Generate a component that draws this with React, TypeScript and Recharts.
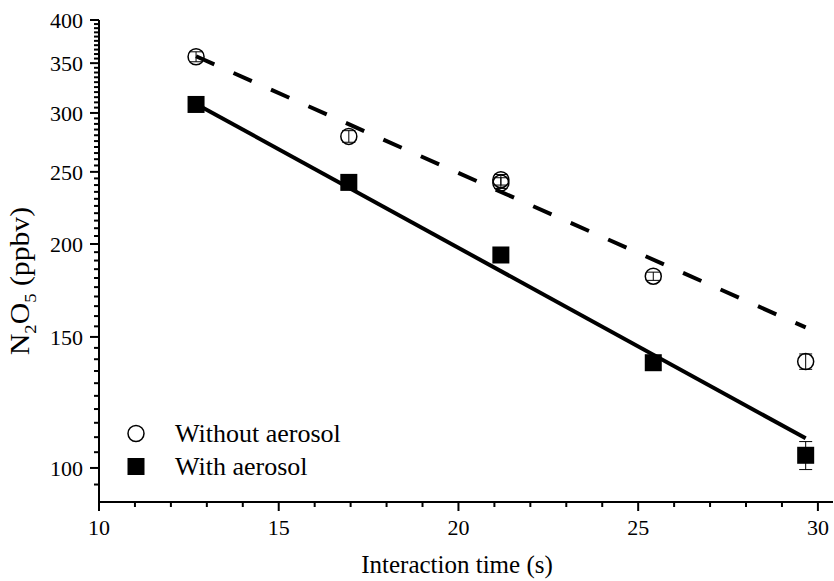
import React from 'react';
import { ComposedChart, XAxis, YAxis, Scatter, Line, ErrorBar, Legend } from 'recharts';

// ---------- data ----------
const TIME_WITHOUT = [12.7, 16.95, 21.18, 21.18, 25.42, 29.66];
const N2O5_WITHOUT = [357, 279, 244, 241.5, 181, 139];
const ERR_WITHOUT = [5.5, 5, 4, 4, 2.3, 3.3];

const TIME_WITH = [12.7, 16.95, 21.18, 25.42, 29.66];
const N2O5_WITH = [308, 242, 193.3, 138.5, 104];
const ERR_WITH = [3, 3, 3, 3, 4.5];

const FIT_TIME = [12.7, 29.66];
const FIT_WITHOUT = [357.5, 154.5];
const FIT_WITH = [308.5, 109.6];

const SERIES_NAMES = ['Without aerosol', 'With aerosol'];

const X_MAJOR = [10, 15, 20, 25, 30];
const X_TICKS = [10, 11, 12, 13, 14, 15, 16, 17, 18, 19, 20, 21, 22, 23, 24, 25, 26, 27, 28, 29, 30];
const Y_MAJOR = [100, 150, 200, 250, 300, 350, 400];
const Y_TICKS = Array.from({ length: 62 }, (_, i) => 95 + 5 * i);

const X_DOMAIN: [number, number] = [10, 30.42];
const Y_DOMAIN: [number, number] = [90, 400];

const X_TITLE = 'Interaction time (s)';

// ---------- table building ----------
const withoutData = TIME_WITHOUT.map((x, i) => ({ x, y: N2O5_WITHOUT[i], err: ERR_WITHOUT[i] }));
const withData = TIME_WITH.map((x, i) => ({ x, y: N2O5_WITH[i], err: ERR_WITH[i] }));
const fitWithoutData = FIT_TIME.map((x, i) => ({ x, y: FIT_WITHOUT[i] }));
const fitWithData = FIT_TIME.map((x, i) => ({ x, y: FIT_WITH[i] }));

// ---------- styling ----------
const FONT = '"Liberation Serif", "Times New Roman", serif';
const W = 834;
const H = 581;
const MARGIN = { top: 20, right: 1, left: 0, bottom: 0 };
const Y_AXIS_W = 99;
const X_AXIS_H = 79;
const MAJOR_LEN = 9;
const MINOR_LEN = 5;
const TICK_STROKE = 2;

const BottomTick = (props: any) => {
  const { x, y, payload } = props;
  const major = X_MAJOR.includes(payload.value);
  return (
    <g>
      <line x1={x} x2={x} y1={y} y2={y + (major ? MAJOR_LEN : MINOR_LEN)} stroke="#000" strokeWidth={TICK_STROKE} />
      {major && (
        <text x={x} y={y + 33} textAnchor="middle" fontFamily={FONT} fontSize={22} fill="#000">
          {payload.value}
        </text>
      )}
    </g>
  );
};

const TopTick = (props: any) => {
  const { x, y, payload } = props;
  const major = X_MAJOR.includes(payload.value);
  return <line x1={x} x2={x} y1={y} y2={y + (major ? MAJOR_LEN : MINOR_LEN)} stroke="#000" strokeWidth={TICK_STROKE} />;
};

const LeftTick = (props: any) => {
  const { x, y, payload } = props;
  const major = Y_MAJOR.includes(payload.value);
  return (
    <g>
      <line x1={x} x2={x - (major ? MAJOR_LEN : MINOR_LEN)} y1={y} y2={y} stroke="#000" strokeWidth={TICK_STROKE} />
      {major && (
        <text x={x - 16} y={y} dy="0.35em" textAnchor="end" fontFamily={FONT} fontSize={22} fill="#000">
          {payload.value}
        </text>
      )}
    </g>
  );
};

const RightTick = (props: any) => {
  const { x, y, payload } = props;
  const major = Y_MAJOR.includes(payload.value);
  return <line x1={x} x2={x - (major ? MAJOR_LEN : MINOR_LEN)} y1={y} y2={y} stroke="#000" strokeWidth={TICK_STROKE} />;
};

const XTitle = () => (
  <text x={457} y={573} textAnchor="middle" fontFamily={FONT} fontSize={25} fill="#000">
    {X_TITLE}
  </text>
);

const YTitle = () => (
  <text
    transform="translate(29, 281) rotate(-90) scale(1.1, 1)"
    x={0}
    y={0}
    textAnchor="middle"
    fontFamily={FONT}
    fontSize={27}
    fill="#000"
  >
    N<tspan dy={7} fontSize={17}>2</tspan>
    <tspan dy={-7}>O</tspan>
    <tspan dy={7} fontSize={17}>5</tspan>
    <tspan dy={-7}>{'\u00a0(ppbv)'}</tspan>
  </text>
);

const CircleShape = (props: any) => (
  <circle cx={props.cx} cy={props.cy} r={8} fill="none" stroke="#000" strokeWidth={1.5} />
);
const SquareShape = (props: any) => (
  <rect x={props.cx - 8.5} y={props.cy - 8.5} width={17} height={17} fill="#000" />
);

const LegendContent = (props: any) => {
  const items = (props.payload || [])
    .filter((p: any) => p.type !== 'none')
    .slice()
    .sort((a: any, b: any) => SERIES_NAMES.indexOf(a.value) - SERIES_NAMES.indexOf(b.value));
  return (
    <div style={{ fontFamily: FONT, fontSize: 26, color: '#000' }}>
      {items.map((p: any) => (
        <div key={p.value} style={{ display: 'flex', alignItems: 'center', height: 33 }}>
          <svg width={59} height={33} style={{ display: 'block' }}>
            {p.type === 'circle' ? (
              <circle cx={20} cy={16.5} r={8} fill="none" stroke="#000" strokeWidth={1.5} />
            ) : (
              <rect x={11.5} y={8} width={17} height={17} fill="#000" />
            )}
          </svg>
          <span style={{ lineHeight: '33px', whiteSpace: 'nowrap' }}>{p.value}</span>
        </div>
      ))}
    </div>
  );
};

export default function App() {
  return (
    <div style={{ position: 'absolute', left: 0, top: 0, background: '#fff' }}>
      <ComposedChart width={W} height={H} margin={MARGIN}>
        <XAxis
          xAxisId="bottom"
          orientation="bottom"
          dataKey="x"
          type="number"
          domain={X_DOMAIN}
          allowDataOverflow
          ticks={X_TICKS}
          interval={0}
          height={X_AXIS_H}
          tickSize={0}
          tickMargin={0}
          tickLine={false}
          tick={<BottomTick />}
          axisLine={{ stroke: '#000', strokeWidth: 2 }}
          label={{ content: () => <XTitle /> }}
        />
        <XAxis
          xAxisId="top"
          orientation="top"
          dataKey="x"
          type="number"
          domain={X_DOMAIN}
          allowDataOverflow
          ticks={X_TICKS}
          interval={0}
          height={0}
          tickSize={0}
          tickMargin={0}
          tickLine={false}
          tick={<TopTick />}
          axisLine={{ stroke: '#000', strokeWidth: 2 }}
        />
        <YAxis
          yAxisId="left"
          orientation="left"
          dataKey="y"
          type="number"
          scale="log"
          domain={Y_DOMAIN}
          allowDataOverflow
          ticks={Y_TICKS}
          interval={0}
          width={Y_AXIS_W}
          tickSize={0}
          tickMargin={0}
          tickLine={false}
          tick={<LeftTick />}
          axisLine={{ stroke: '#000', strokeWidth: 2 }}
          label={{ content: () => <YTitle /> }}
        />
        <YAxis
          yAxisId="right"
          orientation="right"
          dataKey="y"
          type="number"
          scale="log"
          domain={Y_DOMAIN}
          allowDataOverflow
          ticks={Y_TICKS}
          interval={0}
          width={0}
          tickSize={0}
          tickMargin={0}
          tickLine={false}
          tick={<RightTick />}
          axisLine={{ stroke: '#000', strokeWidth: 2 }}
        />
        <Line
          xAxisId="bottom"
          yAxisId="left"
          data={fitWithoutData}
          dataKey="y"
          type="linear"
          stroke="#000"
          strokeWidth={4}
          strokeDasharray="20 21"
          dot={false}
          activeDot={false}
          legendType="none"
          isAnimationActive={false}
        />
        <Line
          xAxisId="bottom"
          yAxisId="left"
          data={fitWithData}
          dataKey="y"
          type="linear"
          stroke="#000"
          strokeWidth={4}
          dot={false}
          activeDot={false}
          legendType="none"
          isAnimationActive={false}
        />
        <Scatter
          xAxisId="bottom"
          yAxisId="left"
          name={SERIES_NAMES[0]}
          data={withoutData}
          legendType="circle"
          shape={<CircleShape />}
          isAnimationActive={false}
        >
          <ErrorBar dataKey="err" direction="y" width={6.5} stroke="#000" strokeWidth={1} />
        </Scatter>
        <Scatter
          xAxisId="bottom"
          yAxisId="left"
          name={SERIES_NAMES[1]}
          data={withData}
          legendType="square"
          shape={<SquareShape />}
          isAnimationActive={false}
        >
          <ErrorBar dataKey="err" direction="y" width={6.5} stroke="#000" strokeWidth={1} />
        </Scatter>
        <Legend
          layout="vertical"
          align="center"
          verticalAlign="middle"
          content={<LegendContent />}
          wrapperStyle={{ left: 116, top: 417, width: 'auto', height: 'auto' }}
        />
      </ComposedChart>
    </div>
  );
}
